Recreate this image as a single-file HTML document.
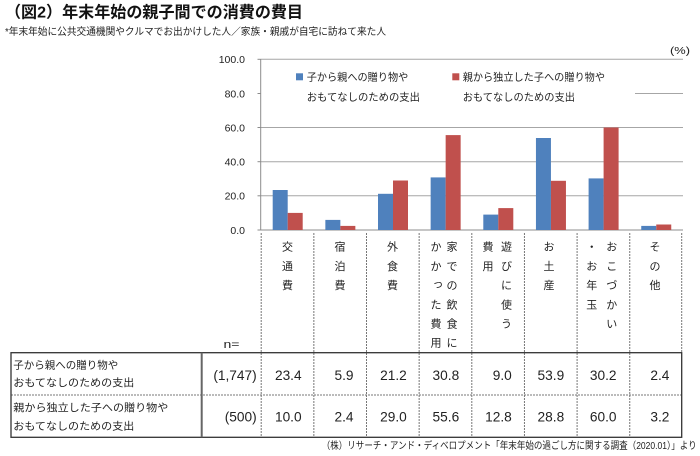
<!DOCTYPE html>
<html><head><meta charset="utf-8"><style>
html,body{margin:0;padding:0;background:#fff;}
svg{display:block;font-family:"Liberation Sans","Noto Sans CJK JP",sans-serif;}
</style></head><body>
<svg width="700" height="456" viewBox="0 0 700 456" xmlns="http://www.w3.org/2000/svg">
<rect x="0" y="0" width="700" height="456" fill="#fff"/>
<!-- title -->
<text x="5" y="17.5" font-size="16" font-weight="bold" fill="#111" textLength="298" lengthAdjust="spacingAndGlyphs">（図2）年末年始の親子間での消費の費目</text>
<text x="5" y="35" font-size="10" fill="#222" textLength="381" lengthAdjust="spacingAndGlyphs">*年末年始に公共交通機関やクルマでお出かけした人／家族・親戚が自宅に訪ねて来た人</text>
<text x="670" y="54" font-size="10" fill="#222" textLength="20" lengthAdjust="spacingAndGlyphs">(%)</text>

<!-- gridlines -->
<g stroke="#a6a6a6" stroke-width="1">
<line x1="260.7" y1="59.3" x2="683" y2="59.3"/>
<line x1="635" y1="93.5" x2="683" y2="93.5"/>
<line x1="260.7" y1="127.5" x2="683" y2="127.5"/>
<line x1="260.7" y1="161.7" x2="683" y2="161.7"/>
<line x1="260.7" y1="195.8" x2="683" y2="195.8"/>
</g>
<!-- axis -->
<g stroke="#8c8c8c" stroke-width="1">
<line x1="260.7" y1="59" x2="260.7" y2="230"/>
<line x1="257.5" y1="59.3" x2="260.7" y2="59.3"/>
<line x1="257.5" y1="93.5" x2="260.7" y2="93.5"/>
<line x1="257.5" y1="127.5" x2="260.7" y2="127.5"/>
<line x1="257.5" y1="161.7" x2="260.7" y2="161.7"/>
<line x1="257.5" y1="195.8" x2="260.7" y2="195.8"/>
<line x1="257.5" y1="230" x2="683" y2="230"/>
</g>
<g font-size="10.5" fill="#222" text-anchor="end">
<text x="245" y="63.2">100.0</text>
<text x="245" y="97.4">80.0</text>
<text x="245" y="131.4">60.0</text>
<text x="245" y="165.6">40.0</text>
<text x="245" y="199.7">20.0</text>
<text x="245" y="233.9">0.0</text>
</g>

<!-- bars -->
<g fill="#4F81BD">
<rect x="272.7" y="190.0" width="15" height="40.0"/>
<rect x="325.35" y="219.9" width="15" height="10.1"/>
<rect x="378.0" y="193.8" width="15" height="36.2"/>
<rect x="430.65" y="177.4" width="15" height="52.6"/>
<rect x="483.3" y="214.6" width="15" height="15.4"/>
<rect x="535.95" y="138.0" width="15" height="92.0"/>
<rect x="588.6" y="178.4" width="15" height="51.6"/>
<rect x="641.25" y="225.9" width="15" height="4.1"/>
</g>
<g fill="#C0504D">
<rect x="287.7" y="212.9" width="15" height="17.1"/>
<rect x="340.35" y="225.9" width="15" height="4.1"/>
<rect x="393.0" y="180.5" width="15" height="49.5"/>
<rect x="445.65" y="135.1" width="15" height="94.9"/>
<rect x="498.3" y="208.1" width="15" height="21.9"/>
<rect x="550.95" y="180.8" width="15" height="49.2"/>
<rect x="603.6" y="127.5" width="15" height="102.5"/>
<rect x="656.25" y="224.5" width="15" height="5.5"/>
</g>

<!-- legend -->
<rect x="296" y="73.3" width="7" height="7" fill="#4F81BD"/>
<rect x="452.3" y="73.3" width="7" height="7" fill="#C0504D"/>
<g font-size="10.5" fill="#222">
<text x="306.7" y="80.5" textLength="101.6" lengthAdjust="spacingAndGlyphs">子から親への贈り物や</text>
<text x="306.7" y="100.5" textLength="113.3" lengthAdjust="spacingAndGlyphs">おもてなしのための支出</text>
<text x="462.7" y="80.5" textLength="142.3" lengthAdjust="spacingAndGlyphs">親から独立した子への贈り物や</text>
<text x="462.7" y="100.5" textLength="112.3" lengthAdjust="spacingAndGlyphs">おもてなしのための支出</text>
</g>

<!-- dashed separators -->
<g stroke="#777" stroke-width="1" stroke-dasharray="2,1">
<line x1="261.2" y1="233" x2="261.2" y2="437"/>
<line x1="313.85" y1="233" x2="313.85" y2="437"/>
<line x1="366.5" y1="233" x2="366.5" y2="437"/>
<line x1="419.15" y1="233" x2="419.15" y2="437"/>
<line x1="471.8" y1="233" x2="471.8" y2="437"/>
<line x1="524.45" y1="233" x2="524.45" y2="437"/>
<line x1="577.1" y1="233" x2="577.1" y2="437"/>
<line x1="629.75" y1="233" x2="629.75" y2="437"/>
<line x1="681.7" y1="233" x2="681.7" y2="352"/>
<line x1="11" y1="395" x2="682" y2="395"/>
</g>

<!-- category labels -->
<g font-size="11" fill="#222" text-anchor="middle">
<text x="287.5" y="250.7">交</text><text x="287.5" y="269.9">通</text><text x="287.5" y="289.1">費</text>
<text x="340" y="250.7">宿</text><text x="340" y="269.9">泊</text><text x="340" y="289.1">費</text>
<text x="392.5" y="250.7">外</text><text x="392.5" y="269.9">食</text><text x="392.5" y="289.1">費</text>
<text x="452" y="250.7">家</text><text x="452" y="269.9">で</text><text x="452" y="289.1">の</text><text x="452" y="308.3">飲</text><text x="452" y="327.5">食</text><text x="452" y="346.7">に</text>
<text x="436" y="250.7">か</text><text x="436" y="269.9">か</text><text x="438" y="287.5">っ</text><text x="436" y="308.3">た</text><text x="436" y="327.5">費</text><text x="436" y="346.7">用</text>
<text x="506.5" y="250.7">遊</text><text x="506.5" y="269.9">び</text><text x="506.5" y="289.1">に</text><text x="506.5" y="308.3">使</text><text x="506.5" y="327.5">う</text>
<text x="488" y="250.7">費</text><text x="488" y="269.9">用</text>
<text x="549" y="250.7">お</text><text x="549" y="269.9">土</text><text x="549" y="289.1">産</text>
<text x="611.7" y="250.7">お</text><text x="611.7" y="269.9">こ</text><text x="611.7" y="289.1">づ</text><text x="611.7" y="308.3">か</text><text x="611.7" y="327.5">い</text>
<text x="591.7" y="250.7">・</text><text x="591.7" y="269.9">お</text><text x="591.7" y="289.1">年</text><text x="591.7" y="308.3">玉</text>
<text x="655" y="250.7">そ</text><text x="655" y="269.9">の</text><text x="655" y="289.1">他</text>
</g>
<text x="223.5" y="347.8" font-size="11" fill="#222" textLength="16" lengthAdjust="spacingAndGlyphs">n=</text>

<!-- table -->
<rect x="11" y="352.7" width="670.7" height="84.6" fill="none" stroke="#333" stroke-width="1.3"/>
<line x1="201.7" y1="352.7" x2="201.7" y2="437.3" stroke="#666" stroke-width="2"/>
<g font-size="10.5" fill="#222">
<text x="13.3" y="368.5" textLength="105" lengthAdjust="spacingAndGlyphs">子から親への贈り物や</text>
<text x="13.3" y="386" textLength="121" lengthAdjust="spacingAndGlyphs">おもてなしのための支出</text>
<text x="13.3" y="411" textLength="155" lengthAdjust="spacingAndGlyphs">親から独立した子への贈り物や</text>
<text x="13.3" y="429.3" textLength="121" lengthAdjust="spacingAndGlyphs">おもてなしのための支出</text>
</g>
<g font-size="13.7" fill="#222" text-anchor="end">
<text x="256.7" y="380">(1,747)</text>
<text x="301.6" y="380">23.4</text>
<text x="353.5" y="380">5.9</text>
<text x="406.8" y="380">21.2</text>
<text x="459.2" y="380">30.8</text>
<text x="511.8" y="380">9.0</text>
<text x="564.2" y="380">53.9</text>
<text x="616.5" y="380">30.2</text>
<text x="669.4" y="380">2.4</text>
<text x="256.7" y="421.7">(500)</text>
<text x="301.6" y="421.7">10.0</text>
<text x="353.5" y="421.7">2.4</text>
<text x="406.8" y="421.7">29.0</text>
<text x="459.2" y="421.7">55.6</text>
<text x="511.8" y="421.7">12.8</text>
<text x="564.2" y="421.7">28.8</text>
<text x="616.5" y="421.7">60.0</text>
<text x="669.4" y="421.7">3.2</text>
</g>

<!-- source -->
<text x="321.7" y="449" font-size="10" fill="#222" textLength="375" lengthAdjust="spacingAndGlyphs">（株）リサーチ・アンド・ディベロプメント「年末年始の過ごし方に関する調査（2020.01）」より</text>
</svg>
</body></html>
